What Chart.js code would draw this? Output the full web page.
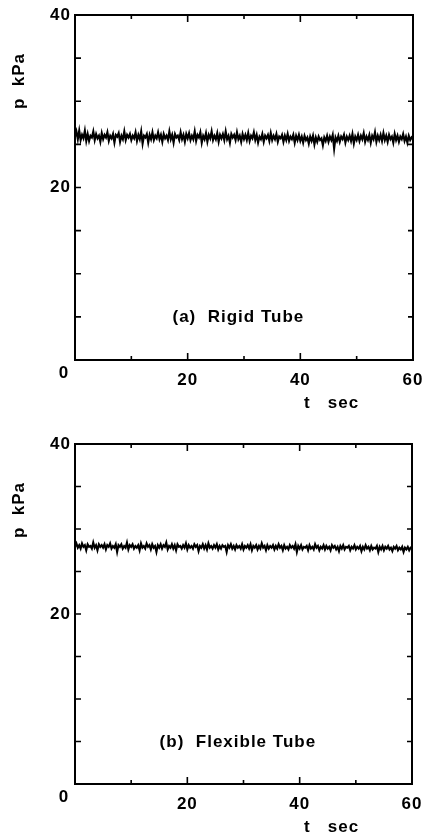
<!DOCTYPE html>
<html>
<head>
<meta charset="utf-8">
<script src="https://cdn.jsdelivr.net/npm/chart.js@4.4.1/dist/chart.umd.min.js"></script>
<style>
  body { margin: 0; background: #fff; }
  canvas { position: absolute; left: 0; }
</style>
</head>
<body>
<canvas id="rigid" width="424" height="420" style="top:0"></canvas>
<canvas id="flexible" width="424" height="417" style="top:420px"></canvas>
<script>
// sampling interval of the recorded pressure traces (s)
const sampleStep = 0.25;
const xMinor = [10, 20, 30, 40, 50];
const yMinor = [5, 10, 15, 20, 25, 30, 35];

// (a) rigid tube, p in kPa
const rigidP = [
  25.9,26.5,25.6,26.6,25.5,26.1,25.7,26.6,25.4,26.2,25.4,26.0,25.8,26.5,25.5,26.2,25.7,26.0,25.3,26.3,
  25.6,26.1,25.8,26.4,25.4,26.0,25.7,26.2,25.2,26.1,25.9,26.3,25.3,26.0,25.6,26.5,25.5,26.1,25.8,26.2,
  25.5,26.0,25.7,26.4,25.4,26.1,25.6,26.5,25.1,26.0,25.8,26.2,25.2,26.1,25.6,26.4,25.5,26.0,25.7,26.4,
  25.6,26.1,25.3,26.2,25.7,26.0,25.5,26.5,25.6,26.1,25.2,26.2,25.8,26.0,25.5,26.4,25.6,26.1,25.3,26.2,
  25.7,26.3,25.5,26.0,25.6,26.5,25.4,26.1,25.8,26.4,25.2,26.0,25.6,26.3,25.3,26.1,25.7,26.5,25.5,26.0,
  25.6,26.3,25.3,26.1,25.7,26.2,25.5,26.5,25.6,26.0,25.2,26.2,25.8,26.1,25.5,26.4,25.6,26.0,25.3,26.2,
  25.6,26.1,25.5,26.3,25.4,26.0,25.7,26.4,25.5,26.1,25.2,25.9,25.6,26.2,25.3,26.0,25.7,26.1,25.4,26.3,
  25.5,26.0,25.6,26.2,25.3,25.9,25.7,26.1,25.3,26.0,25.5,26.2,25.4,25.9,25.6,26.1,25.2,26.0,25.5,26.1,
  25.4,25.9,25.2,26.0,25.5,25.8,25.1,25.9,25.4,26.0,25.0,25.8,25.3,25.9,25.5,25.7,24.9,25.8,25.4,26.0,
  25.3,25.9,25.5,26.1,24.5,25.8,25.4,26.0,25.3,25.9,25.6,26.1,25.2,25.9,25.5,26.0,25.4,26.2,25.1,25.9,
  25.5,26.1,25.4,26.0,25.6,26.3,25.3,25.9,25.5,26.1,25.2,26.0,25.6,26.4,25.3,26.0,25.5,26.1,25.4,26.3,
  25.5,26.0,25.3,26.1,25.6,25.9,25.2,26.2,25.5,26.0,25.3,25.9,25.6,26.2,25.4,25.9,25.2,26.0,25.5,25.8,
  25.6
];

// (b) flexible tube, p in kPa
const flexibleP = [
  27.9,28.3,27.8,28.1,27.7,28.3,27.9,28.1,27.5,28.2,27.9,28.0,27.7,28.4,27.8,28.1,27.5,28.2,27.9,28.1,
  27.8,28.2,27.6,28.1,27.9,28.3,27.7,28.0,27.8,28.2,27.3,28.1,27.9,28.2,27.7,28.0,27.8,28.4,27.6,28.1,
  27.9,28.2,27.7,28.0,27.8,28.1,27.5,28.3,27.8,28.0,27.7,28.3,27.9,28.1,27.6,28.2,27.8,28.0,27.3,28.1,
  27.8,28.2,27.7,28.1,27.9,28.4,27.6,28.0,27.8,28.2,27.7,28.1,27.5,28.2,27.9,28.0,27.7,28.1,27.8,28.3,
  27.6,28.1,27.8,28.0,27.7,28.2,27.9,28.1,27.4,28.0,27.8,28.2,27.7,28.1,27.6,28.3,27.8,28.0,27.7,28.1,
  27.8,28.2,27.6,28.0,27.7,28.1,27.9,28.0,27.3,28.1,27.8,28.2,27.7,28.0,27.6,28.1,27.8,28.0,27.7,28.2,
  27.6,28.0,27.8,28.1,27.7,28.2,27.5,28.0,27.8,28.1,27.6,28.0,27.7,28.3,27.8,28.0,27.5,28.1,27.7,28.0,
  27.8,28.1,27.6,28.0,27.7,28.2,27.8,28.0,27.5,28.1,27.7,27.9,27.6,28.1,27.8,28.0,27.7,28.2,27.3,28.0,
  27.7,28.1,27.6,27.9,27.8,28.0,27.5,28.1,27.7,27.9,27.6,28.2,27.8,28.0,27.5,27.9,27.7,28.1,27.6,28.0,
  27.7,27.9,27.5,28.1,27.8,28.0,27.6,27.9,27.4,28.0,27.7,28.1,27.6,27.9,27.8,28.0,27.5,27.9,27.7,28.1,
  27.6,27.9,27.7,28.0,27.4,27.9,27.6,28.1,27.7,27.9,27.5,28.0,27.6,27.8,27.7,28.0,27.3,27.9,27.6,28.0,
  27.5,27.9,27.7,28.0,27.6,27.8,27.4,27.9,27.7,28.0,27.5,27.8,27.6,27.9,27.3,27.8,27.6,27.9,27.5,27.8,
  27.7
];

const font = 'bold 17px "Liberation Sans", Arial, sans-serif';
Chart.defaults.font.family = '"Liberation Sans", Arial, sans-serif';
Chart.defaults.font.size = 17;
Chart.defaults.font.weight = 'bold';
Chart.defaults.color = '#000';

// box frame with inward ticks on all four sides, plus the loose texts
const frame = {
  id: 'frame',
  beforeDraw(chart) {
    chart.ctx.letterSpacing = '1px';
  },
  afterDraw(chart, args, opts) {
    const { ctx, chartArea: a, scales: { x, y } } = chart;
    ctx.save();
    ctx.strokeStyle = '#000';
    ctx.lineWidth = 2;
    ctx.strokeRect(a.left, a.top, a.right - a.left, a.bottom - a.top);

    ctx.lineWidth = 1.6;
    ctx.beginPath();
    xMinor.forEach(v => {
      const px = x.getPixelForValue(v);
      const len = v % 20 ? 4 : 7;
      ctx.moveTo(px, a.bottom); ctx.lineTo(px, a.bottom - len);
      ctx.moveTo(px, a.top); ctx.lineTo(px, a.top + len);
    });
    yMinor.forEach(v => {
      const py = y.getPixelForValue(v);
      ctx.moveTo(a.left, py); ctx.lineTo(a.left + 6, py);
      ctx.moveTo(a.right, py); ctx.lineTo(a.right - 5, py);
    });
    ctx.stroke();

    ctx.fillStyle = '#000';
    ctx.font = font;
    ctx.letterSpacing = '1px';
    ctx.textBaseline = 'middle';
    ctx.textAlign = 'center';
    ctx.fillText('0', a.left - 11, a.bottom + 13);
    ctx.fillText(opts.label, x.getPixelForValue(29), y.getPixelForValue(4.9));
    ctx.textAlign = 'left';
    ctx.fillText('t   sec', 304, a.bottom + 43);

    ctx.translate(19, a.top + 66);
    ctx.rotate(-Math.PI / 2);
    ctx.textAlign = 'center';
    ctx.fillText('p  kPa', 0, 0);
    ctx.restore();
  }
};

function panel(id, values, label, top, bottom, right) {
  const canvas = document.getElementById(id);
  const h = canvas.height;
  return new Chart(canvas, {
    type: 'line',
    data: {
      datasets: [{
        data: values.map((p, i) => ({ x: i * sampleStep, y: p })),
        borderColor: '#000',
        borderWidth: 2.1,
        pointRadius: 0,
        tension: 0
      }]
    },
    options: {
      responsive: false,
      animation: false,
      layout: { padding: { left: 0, right: right, top: top, bottom: 0 } },
      plugins: {
        legend: { display: false },
        tooltip: { enabled: false },
        frame: { label: label }
      },
      scales: {
        x: {
          type: 'linear',
          min: 0,
          max: 60,
          grid: { display: false, drawTicks: false },
          border: { display: false },
          ticks: {
            stepSize: 20,
            padding: 10,
            maxRotation: 0,
            autoSkip: false,
            callback: v => v === 0 ? '' : v
          },
          afterFit: s => {
            s.height = h - bottom;
            s.paddingLeft = 0;
            s.paddingRight = 0;
          }
        },
        y: {
          min: 0,
          max: 40,
          grid: { display: false, drawTicks: false },
          border: { display: false },
          ticks: {
            stepSize: 20,
            padding: 4,
            callback: v => v === 0 ? '' : v
          },
          afterFit: s => {
            s.width = 75;
            s.paddingTop = 0;
            s.paddingBottom = 0;
          }
        }
      }
    },
    plugins: [frame]
  });
}

panel('rigid', rigidP, '(a)  Rigid Tube', 15, 360, 11);
panel('flexible', flexibleP, '(b)  Flexible Tube', 24, 364, 12);
</script>
</body>
</html>
